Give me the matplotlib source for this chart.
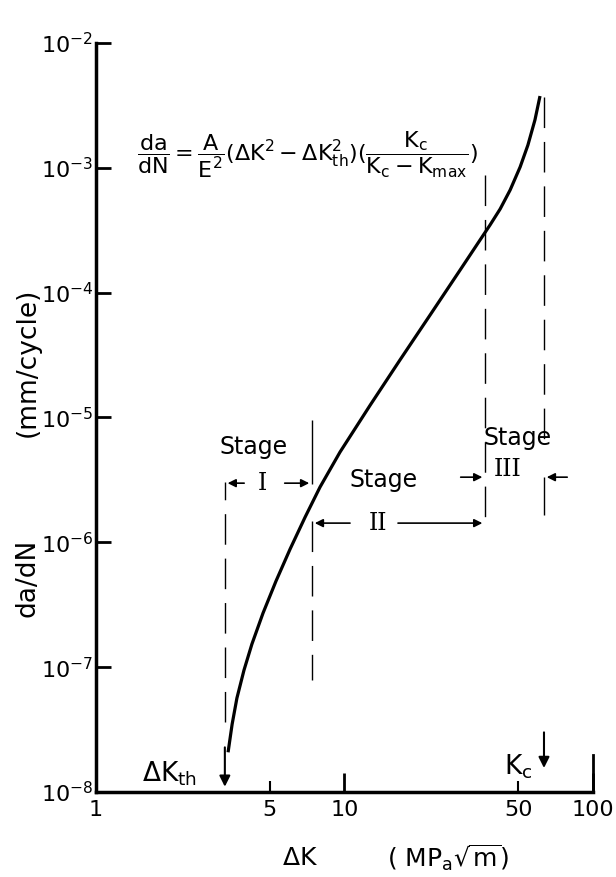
import matplotlib
matplotlib.use("Agg")
import matplotlib.pyplot as plt
from matplotlib.ticker import FixedLocator, FixedFormatter, NullLocator

plt.rcParams['font.family'] = ['DejaVu Sans']
plt.rcParams['mathtext.default'] = 'regular'

# curve: delta K (MPa sqrt m) and da/dN (mm/cycle)
dk = [3.40, 3.53, 3.69, 3.94, 4.24, 4.70, 5.30, 6.04, 6.94, 7.97, 9.59,
      12.7, 16.7, 22.1, 29.2, 32.0, 35.1, 38.5, 42.3, 46.4, 50.9, 54.7, 58.4, 61.2]
dadn = [2.08e-8, 3.49e-8, 5.65e-8, 9.46e-8, 1.53e-7, 2.71e-7, 4.89e-7, 8.83e-7, 1.59e-6, 2.77e-6, 5.28e-6,
        1.26e-5, 2.88e-5, 6.62e-5, 1.52e-4, 2.00e-4, 2.64e-4, 3.48e-4, 4.68e-4, 6.64e-4, 1.015e-3,
        1.52e-3, 2.42e-3, 3.76e-3]

# stage limits
dk_th = 3.3
dk_12 = 7.4
dk_23 = 36.8
k_c = 63.5

x_ticks = [1, 10, 100]
x_minor = [5, 50]
y_ticks = [1e-8, 1e-7, 1e-6, 1e-5, 1e-4, 1e-3, 1e-2]
y_labels = [r'$10^{-8}$', r'$10^{-7}$', r'$10^{-6}$', r'$10^{-5}$', r'$10^{-4}$', r'$10^{-3}$', r'$10^{-2}$']

fig = plt.figure(figsize=(6.16, 8.77), dpi=100)
ax = fig.add_axes([96/616, 1-792/877, (593-96)/616, (792-43)/877])
ax.set_xscale('log')
ax.set_yscale('log')
ax.set_xlim(1, 100)
ax.set_ylim(1e-8, 1e-2)

ax.spines['top'].set_visible(False)
ax.spines['left'].set_linewidth(2.5)
ax.spines['bottom'].set_linewidth(2.5)
ax.spines['right'].set_linewidth(2)
ax.spines['right'].set_bounds(1e-8, 10**-7.7)

ax.xaxis.set_major_locator(FixedLocator(x_ticks))
ax.xaxis.set_major_formatter(FixedFormatter([str(v) for v in x_ticks]))
ax.xaxis.set_minor_locator(FixedLocator(x_minor))
ax.xaxis.set_minor_formatter(FixedFormatter([str(v) for v in x_minor]))
ax.yaxis.set_major_locator(FixedLocator(y_ticks))
ax.yaxis.set_major_formatter(FixedFormatter(y_labels))
ax.yaxis.set_minor_locator(NullLocator())

ax.tick_params(axis='x', which='major', direction='in', length=14, width=2, labelsize=16, pad=6)
ax.tick_params(axis='x', which='minor', direction='in', length=8, width=1.5, labelsize=16, pad=6)
ax.tick_params(axis='y', which='major', direction='in', length=11, width=2, labelsize=16, pad=2)

# curve
ax.plot(dk, dadn, color='black', lw=2.3, solid_capstyle='butt')

dash = (0, (22, 10))
ax.vlines(dk_th, 10**-7.44, 10**-5.52, color='black', lw=1, linestyles=[dash])
ax.vlines(dk_12, 10**-5.02, 10**-5.53, color='black', lw=1)
ax.vlines(dk_12, 10**-5.83, 10**-7.10, color='black', lw=1, linestyles=[dash])
ax.vlines(dk_23, 10**-3.06, 10**-5.88, color='black', lw=1, linestyles=[dash])
ax.vlines(k_c, 10**-2.43, 10**-5.20, color='black', lw=1, linestyles=[dash])
ax.vlines(k_c, 10**-5.48, 10**-5.78, color='black', lw=1)

arr = dict(arrowstyle='-|>', color='black', lw=1.2, mutation_scale=12)
sf = 17
rf = 'DejaVu Serif'

# stage I
ax.text(4.32, 10**-5.237, 'Stage', fontsize=sf, ha='center', va='center')
ax.text(4.66, 10**-5.526, 'I', fontsize=sf, ha='center', va='center', family=rf)
ax.annotate('', xy=(dk_th, 10**-5.526), xytext=(4.05, 10**-5.526), arrowprops=arr)
ax.annotate('', xy=(dk_12, 10**-5.526), xytext=(5.6, 10**-5.526), arrowprops=arr)

# stage II
ax.text(14.3, 10**-5.50, 'Stage', fontsize=sf, ha='center', va='center')
ax.text(13.6, 10**-5.846, 'II', fontsize=sf, ha='center', va='center', family=rf)
ax.annotate('', xy=(dk_12, 10**-5.846), xytext=(10.8, 10**-5.846), arrowprops=arr)
ax.annotate('', xy=(dk_23, 10**-5.846), xytext=(16.0, 10**-5.846), arrowprops=arr)

# stage III
ax.text(49.9, 10**-5.165, 'Stage', fontsize=sf, ha='center', va='center')
ax.text(45.5, 10**-5.42, 'III', fontsize=sf, ha='center', va='center', family=rf)
ax.annotate('', xy=(dk_23, 10**-5.478), xytext=(28.6, 10**-5.478), arrowprops=arr)
ax.annotate('', xy=(k_c, 10**-5.478), xytext=(80.8, 10**-5.478), arrowprops=arr)

# threshold and toughness markers
ax.text(1.98, 10**-7.85, r'$\Delta K_{th}$', fontsize=19, ha='center', va='center')
ax.annotate('', xy=(dk_th, 10**-7.98), xytext=(dk_th, 10**-7.62),
            arrowprops=dict(arrowstyle='-|>', color='black', lw=1.5, mutation_scale=16))
ax.text(49.9, 10**-7.80, r'$K_c$', fontsize=19, ha='center', va='center')
ax.annotate('', xy=(k_c, 10**-7.83), xytext=(k_c, 10**-7.5),
            arrowprops=dict(arrowstyle='-|>', color='black', lw=1.5, mutation_scale=16))

# formula
ax.text(1.46, 10**-2.90,
        r'$\dfrac{da}{dN}=\dfrac{A}{E^2}(\Delta K^2-\Delta K_{th}^2)(\dfrac{K_c}{K_c-K_{max}})$',
        fontsize=16, ha='left', va='center')

# axis titles
fig.text(28/616, 1-362/877, '(mm/cycle)', rotation=90, fontsize=19, ha='center', va='center')
fig.text(28/616, 1-578/877, 'da/dN', rotation=90, fontsize=19, ha='center', va='center')
fig.text(300/616, 1-858/877, r'$\Delta K$', fontsize=18, ha='center', va='center')
fig.text(448/616, 1-858/877, r'( MP$_a\sqrt{m}$)', fontsize=18, ha='center', va='center')

fig.savefig('out.png', dpi=100)
